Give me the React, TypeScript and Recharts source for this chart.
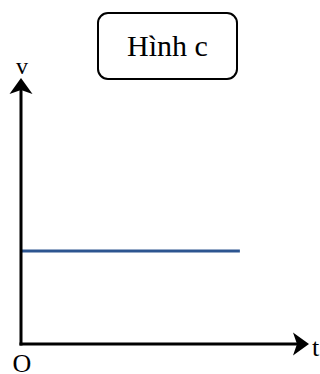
import React from "react";
import { LineChart, Line, XAxis, YAxis, ReferenceLine } from "recharts";

const tValues = [0, 7.6];
const vValues = [3.5, 3.5];
const xDomain = [0, 10];
const yDomain = [0, 10];
const title = "Hình c";
const xLabel = "t";
const yLabel = "v";
const originLabel = "O";

const data = tValues.map((t, i) => ({ t, v: vValues[i] }));

const FONT = "'Liberation Serif', 'Times New Roman', serif";

function makeArrow(kind: "x" | "y") {
  return (props: any) => {
    const { x1, y1, x2, y2 } = props;
    const dx = x2 - x1;
    const dy = y2 - y1;
    const len = Math.hypot(dx, dy) || 1;
    const ux = dx / len;
    const uy = dy / len;
    const px = -uy;
    const py = ux;
    const L = 16;
    const W = 23;
    const N = 4;
    const bx = x2 - ux * L;
    const by = y2 - uy * L;
    const nx = x2 - ux * (L - N);
    const ny = y2 - uy * (L - N);
    const pts = [
      [x2, y2],
      [bx + (px * W) / 2, by + (py * W) / 2],
      [nx, ny],
      [bx - (px * W) / 2, by - (py * W) / 2],
    ]
      .map((p) => p.join(","))
      .join(" ");
    return (
      <g>
        <line x1={x1} y1={y1} x2={nx} y2={ny} stroke="#000" strokeWidth={3} strokeLinecap="square" />
        <polygon points={pts} fill="#000" />
        {kind === "x" ? (
          <>
            <text x={x2 + 3} y={y2 + 12} fontFamily={FONT} fontSize={26} fill="#000">
              {xLabel}
            </text>
            <text x={x1 + 1} y={y1 + 28} fontFamily={FONT} fontSize={26} fill="#000" textAnchor="middle">
              {originLabel}
            </text>
          </>
        ) : (
          <text x={x2 + 1} y={y2 - 4} fontFamily={FONT} fontSize={24} fill="#000" textAnchor="middle">
            {yLabel}
          </text>
        )}
      </g>
    );
  };
}

export default function App() {
  return (
    <div style={{ position: "absolute", left: 0, top: 0, width: 320, height: 374, background: "#fff" }}>
      <LineChart
        width={320}
        height={374}
        data={data}
        margin={{ top: 78, right: 11, bottom: 30, left: 21 }}
      >
        <XAxis dataKey="t" type="number" domain={xDomain} hide />
        <YAxis type="number" domain={yDomain} hide />
        <Line
          dataKey="v"
          stroke="#2c5590"
          strokeWidth={3}
          dot={false}
          isAnimationActive={false}
        />
        <ReferenceLine
          segment={[
            { x: xDomain[0], y: yDomain[0] },
            { x: xDomain[1], y: yDomain[0] },
          ]}
          ifOverflow="visible"
          shape={makeArrow("x")}
        />
        <ReferenceLine
          segment={[
            { x: xDomain[0], y: yDomain[0] },
            { x: xDomain[0], y: yDomain[1] },
          ]}
          ifOverflow="visible"
          shape={makeArrow("y")}
        />
      </LineChart>
      <div
        style={{
          position: "absolute",
          left: 97,
          top: 12,
          width: 141,
          height: 68,
          boxSizing: "border-box",
          border: "2px solid #000",
          borderRadius: 11,
          display: "flex",
          alignItems: "center",
          justifyContent: "center",
          fontFamily: FONT,
          fontSize: 30,
          color: "#000",
          background: "#fff",
        }}
      >
        {title}
      </div>
    </div>
  );
}
